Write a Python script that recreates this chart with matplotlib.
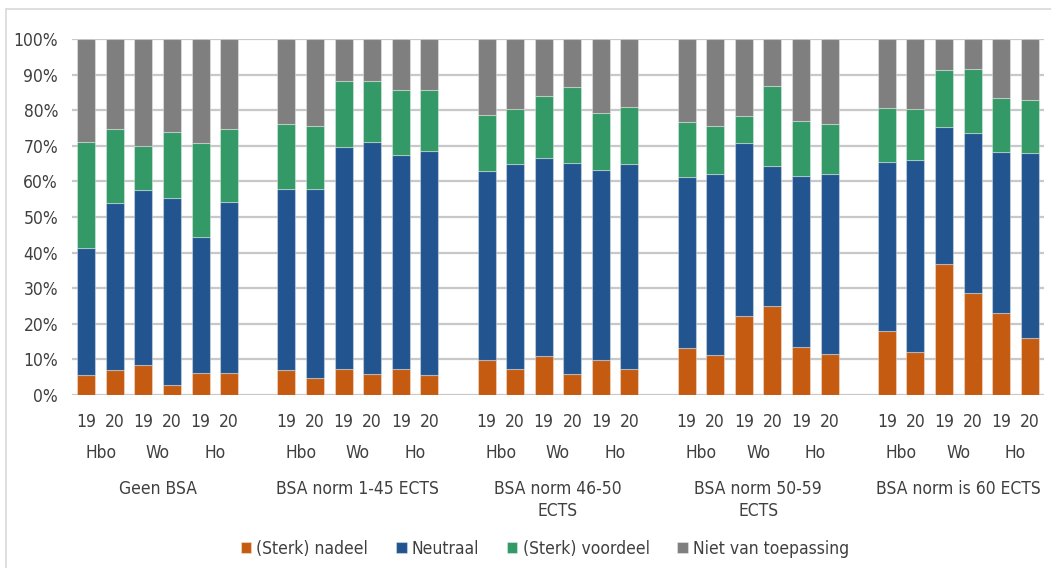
import matplotlib
matplotlib.use("Agg")
import matplotlib.pyplot as plt
from matplotlib.transforms import blended_transform_factory
from matplotlib.patches import Rectangle

groups = ["Geen BSA", "BSA norm 1-45 ECTS", "BSA norm 46-50\nECTS", "BSA norm 50-59\nECTS", "BSA norm is 60 ECTS"]
sectors = ["Hbo", "Wo", "Ho"]
years = ["19", "20"]
series = ["(Sterk) nadeel", "Neutraal", "(Sterk) voordeel", "Niet van toepassing"]

nadeel = [5.6, 7.0, 8.4, 2.8, 6.2, 6.2,
          7.1, 4.9, 7.4, 5.9, 7.3, 5.6,
          9.9, 7.4, 10.9, 5.8, 9.9, 7.3,
          13.3, 11.3, 22.1, 25.1, 13.5, 11.6,
          18.0, 12.0, 36.7, 28.7, 23.0, 15.9]
neutraal = [35.6, 47.0, 49.1, 52.4, 38.1, 48.1,
            50.7, 52.9, 62.2, 65.1, 60.0, 62.8,
            53.1, 57.4, 55.7, 59.5, 53.2, 57.5,
            47.8, 50.7, 48.6, 39.1, 47.9, 50.4,
            47.5, 54.1, 38.5, 44.8, 45.2, 52.0]
voordeel = [29.8, 20.6, 12.4, 18.6, 26.6, 20.3,
            18.2, 17.7, 18.5, 17.1, 18.3, 17.2,
            15.7, 15.6, 17.3, 21.2, 16.0, 16.0,
            15.5, 13.7, 7.6, 22.5, 15.5, 14.0,
            15.0, 14.1, 16.0, 18.0, 15.1, 15.1]
niet = [100 - a - b - c for a, b, c in zip(nadeel, neutraal, voordeel)]

colors = ["#C55A11", "#22558F", "#339966", "#7F7F7F"]

plt.rcParams["font.family"] = ["DejaVu Sans"]
plt.rcParams["font.stretch"] = "condensed"
txtc = "#404040"
fs = 12.5

W, H = 1051, 568
fig = plt.figure(figsize=(W / 100, H / 100), dpi=100)
ax = fig.add_axes([72 / W, (H - 395) / H, (1044 - 72) / W, (395 - 39) / H])

pos = []
for g in range(len(groups)):
    for b in range(6):
        pos.append(g * 7 + b)

bottom = [0.0] * len(pos)
for vals, col, name in zip([nadeel, neutraal, voordeel, niet], colors, series):
    ax.bar(pos, vals, bottom=bottom, width=0.63, color=col, label=name,
           edgecolor=(1, 1, 1, 0.35), linewidth=0.8, zorder=3)
    bottom = [b + v for b, v in zip(bottom, vals)]

ax.set_xlim(-0.5, 33.5)
ax.set_ylim(0, 100)
ax.set_yticks(range(0, 101, 10))
ax.set_yticklabels([f"{v}%" for v in range(0, 101, 10)], fontsize=fs, color=txtc)
ax.tick_params(axis="y", length=0, pad=10)
ax.set_xticks([])
ax.grid(axis="y", color="#C8C8C8", linewidth=1.6, zorder=0)
for s in ax.spines.values():
    s.set_visible(False)

tr = blended_transform_factory(ax.transData, fig.transFigure)
for i, p in enumerate(pos):
    ax.text(p, 1 - 422 / H, years[i % 2], transform=tr, ha="center", va="center",
            fontsize=fs, color=txtc)
for g in range(len(groups)):
    for s in range(3):
        x = g * 7 + s * 2 + 0.5
        ax.text(x, 1 - 453 / H, sectors[s], transform=tr, ha="center", va="center",
                fontsize=fs, color=txtc)
    xg = g * 7 + 2.5
    ax.text(xg, 1 - 480 / H, groups[g], transform=tr, ha="center", va="top",
            fontsize=fs, color=txtc, linespacing=1.25)

leg = fig.legend(loc="center", bbox_to_anchor=(545 / W, 1 - 549 / H), ncol=4,
                 frameon=False, fontsize=fs, handlelength=0.6, handleheight=0.6,
                 handletextpad=0.3, columnspacing=1.6)
for t in leg.get_texts():
    t.set_color(txtc)

fig.patches.append(Rectangle((6 / W, -0.01), 1.1, 1 - 9.5 / H + 0.01, transform=fig.transFigure,
                             fill=False, edgecolor="#D9D9D9", linewidth=1.2))

fig.savefig("out.png", dpi=100)
